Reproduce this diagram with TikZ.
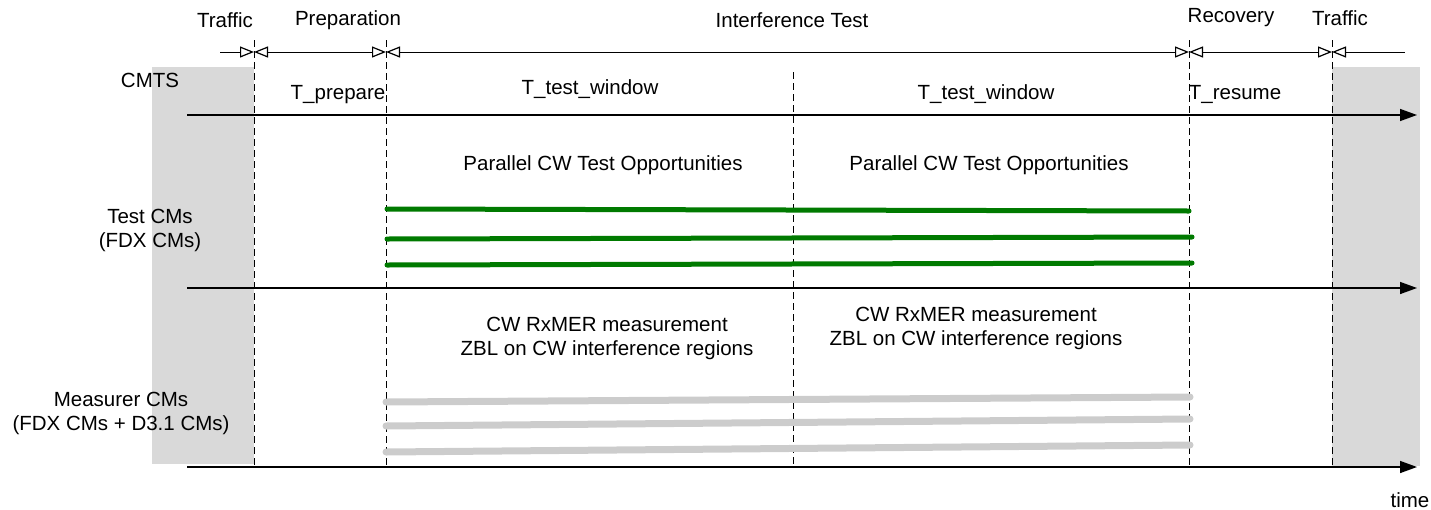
\documentclass[tikz,border=0pt]{standalone}
\usepackage{fontspec}
\setmainfont{Liberation Sans}
\usetikzlibrary{arrows.meta}
\definecolor{trafficgray}{RGB}{217,217,217}
\definecolor{cwgreen}{RGB}{0,122,0}
\definecolor{mgray}{RGB}{204,204,204}
\tikzset{
  lbl/.style={font=\fontsize{20.5}{24}\selectfont, inner sep=0pt, align=center},
  phase/.style={draw=black, line width=1pt, dashed, dash pattern=on 7pt off 4pt},
  timeline/.style={draw=black, line width=1.4pt, -{Triangle[length=17pt,width=12pt]}},
  span/.style={draw=black, line width=1pt},
  optri/.tip={Triangle[open,length=14pt,width=11pt,line width=1.2pt]},
  testline/.style={draw=cwgreen, line width=5pt, line cap=round},
  measline/.style={draw=mgray, line width=7pt, line cap=round},
}
\begin{document}
\begin{tikzpicture}[x=1pt,y=-1pt]
\useasboundingbox (0,0) rectangle (1431,509);
% shaded traffic regions
\fill[trafficgray] (152,67) rectangle (254,464);
\fill[trafficgray] (1332,67) rectangle (1420,466);
% phase boundaries
\coordinate (b1t) at (254,40); \coordinate (b1b) at (254,467);
\coordinate (b2t) at (386,40); \coordinate (b2b) at (386,467);
\coordinate (b3t) at (793,72); \coordinate (b3b) at (793,467);
\coordinate (b4t) at (1189,40); \coordinate (b4b) at (1189,467);
\coordinate (b5t) at (1332,40); \coordinate (b5b) at (1332,467);
\foreach \b in {b1,b2,b3,b4,b5} \draw[phase] (\b t) -- (\b b);
% span arrows
\coordinate (s0) at (220,52);
\coordinate (s1) at (254,52);
\coordinate (s2) at (386,52);
\coordinate (s4) at (1189,52);
\coordinate (s5) at (1332,52);
\coordinate (s6) at (1405,52);
\draw[span,-{optri}] (s0) -- (s1);
\draw[span,{optri}-{optri}] (s1) -- (s2);
\draw[span,{optri}-{optri}] (s2) -- (s4);
\draw[span,{optri}-{optri}] (s4) -- (s5);
\draw[span,{optri}-] (s5) -- (s6);
% phase labels
\node[lbl] (ltraf1) at (225,20) {Traffic};
\node[lbl] (lprep) at (348,20) {Preparation};
\node[lbl] (lint) at (792,20) {Interference Test};
\node[lbl] (lrec) at (1231,18) {Recovery};
\node[lbl] (ltraf2) at (1340,18) {Traffic};
% timelines
\coordinate (c0) at (187,115); \coordinate (c1) at (1417,115);
\coordinate (t0) at (187,288); \coordinate (t1) at (1417,288);
\coordinate (m0) at (187,467); \coordinate (m1) at (1417,467);
\draw[timeline] (c0) -- (c1);
\draw[timeline] (t0) -- (t1);
\draw[timeline] (m0) -- (m1);
% row labels
\node[lbl] (cmts) at (150,80) {CMTS};
\node[lbl] (testcms) at (150,230) {Test CMs\\(FDX CMs)};
\node[lbl] (meascms) at (121,413) {Measurer CMs\\(FDX CMs + D3.1 CMs)};
\node[lbl] (time) at (1410,500) {time};
% interval labels
\node[lbl] (tprep) at (338,95) {T\_prepare};
\node[lbl] (ttw1) at (590,89) {T\_test\_window};
\node[lbl] (ttw2) at (986,94) {T\_test\_window};
\node[lbl] (tres) at (1235,94) {T\_resume};
% test opportunities
\node[lbl] (pcw1) at (603,165) {Parallel CW Test Opportunities};
\node[lbl] (pcw2) at (989,165) {Parallel CW Test Opportunities};
\coordinate (g1a) at (387,209); \coordinate (g1b) at (1189,211);
\coordinate (g2a) at (387,239); \coordinate (g2b) at (1192,237);
\coordinate (g3a) at (387,265); \coordinate (g3b) at (1192,263);
\draw[testline] (g1a) -- (g1b);
\draw[testline] (g2a) -- (g2b);
\draw[testline] (g3a) -- (g3b);
% measurement
\node[lbl] (rx1) at (607,338) {CW RxMER measurement\\ZBL on CW interference regions};
\node[lbl] (rx2) at (976,328) {CW RxMER measurement\\ZBL on CW interference regions};
\coordinate (h1a) at (386,402); \coordinate (h1b) at (1190,397);
\coordinate (h2a) at (386,426); \coordinate (h2b) at (1190,419);
\coordinate (h3a) at (386,452); \coordinate (h3b) at (1190,445);
\draw[measline] (h1a) -- (h1b);
\draw[measline] (h2a) -- (h2b);
\draw[measline] (h3a) -- (h3b);
\end{tikzpicture}
\end{document}
